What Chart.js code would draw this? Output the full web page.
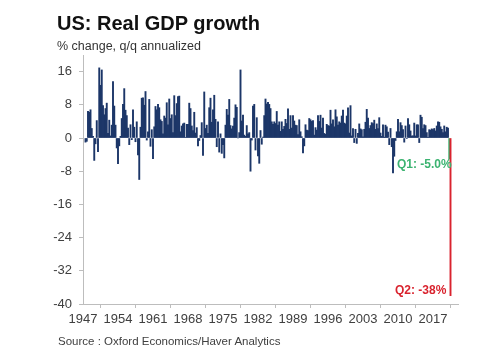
<!DOCTYPE html>
<html>
<head>
<meta charset="utf-8">
<script src="https://cdn.jsdelivr.net/npm/chart.js@4"></script>
<style>
  html, body { margin: 0; padding: 0; background: #fff; }
  #wrap { position: relative; width: 500px; height: 358px; font-family: "Liberation Sans", Arial, sans-serif; }
  #wrap canvas { position: absolute; left: 0; top: 0; }
  .txt { position: absolute; white-space: nowrap; line-height: 1; }
  #title { left: 57px; top: 13px; font-size: 20px; font-weight: bold; color: #111; }
  #sub { left: 57px; top: 40px; font-size: 12.5px; color: #333; }
  #src { left: 58px; top: 336px; font-size: 11.5px; color: #404040; }
  #q1 { left: 397px; top: 158px; font-size: 12px; font-weight: bold; color: #3cb371; }
  #q2 { left: 395px; top: 284px; font-size: 12px; font-weight: bold; color: #d9232e; }
</style>
</head>
<body>
<div id="wrap">
  <canvas id="gdp" width="500" height="358"></canvas>
  <div class="txt" id="title">US: Real GDP growth</div>
  <div class="txt" id="sub">% change, q/q annualized</div>
  <div class="txt" id="src">Source : Oxford Economics/Haver Analytics</div>
  <div class="txt" id="q1">Q1: -5.0%</div>
  <div class="txt" id="q2">Q2: -38%</div>
</div>
<script>
// quarterly growth, % q/q annualized, starting 1947 Q2
const firstYear = 1947;
const firstQuarter = 2;
const history = [
  -1.0, -0.8, 6.4,            // 1947
  6.2, 6.8, 2.3, 0.4,         // 1948
  -5.4, -1.4, 4.2, -3.3,      // 1949
  16.9, 12.7, 16.4, 7.8,      // 1950
  5.6, 7.1, 8.4, 1.1,         // 1951
  4.3, 0.5, 3.1, 13.6,        // 1952
  7.7, 3.1, -2.4, -6.2,       // 1953
  -1.9, 0.4, 4.7, 8.1,        // 1954
  11.9, 6.7, 5.4, 2.4,        // 1955
  -1.6, 3.2, -0.4, 6.8,       // 1956
  2.6, -0.9, 3.9, -4.1,       // 1957
  -10.0, 2.6, 9.6, 9.7,       // 1958
  7.9, 11.2, -0.5, 1.5,       // 1959
  9.3, -2.0, 2.0, -5.0,       // 1960
  2.7, 7.6, 6.8, 8.1,         // 1961
  7.3, 4.4, 4.0, 1.0,         // 1962
  5.3, 4.8, 8.5, 3.2,         // 1963
  9.4, 4.7, 5.6, 1.3,         // 1964
  10.2, 5.4, 8.3, 10.0,       // 1965
  10.1, 1.5, 2.9, 3.4,        // 1966
  3.6, 0.1, 3.3, 3.3,         // 1967
  8.4, 7.1, 2.9, 1.8,         // 1968
  6.2, 1.2, 2.5, -1.9,        // 1969
  -0.6, 0.6, 3.7, -4.2,       // 1970
  11.1, 2.3, 3.1, 1.1,        // 1971
  7.3, 9.6, 3.8, 6.8,         // 1972
  10.3, 4.5, -2.1, 3.9,       // 1973
  -3.4, 1.0, -3.7, -1.6,      // 1974
  -4.8, 3.1, 6.9, 5.5,        // 1975
  9.3, 3.0, 2.2, 2.9,         // 1976
  4.8, 8.0, 7.4, 0.0,         // 1977
  1.3, 16.4, 4.1, 5.5,        // 1978
  0.7, 0.4, 3.0, 1.0,         // 1979
  1.3, -8.0, -0.5, 7.7,       // 1980
  8.1, -2.9, 4.9, -4.3,       // 1981
  -6.1, 1.8, -1.5, 0.2,       // 1982
  5.4, 9.4, 8.2, 8.6,         // 1983
  8.1, 7.1, 3.9, 3.3,         // 1984
  3.9, 3.5, 6.4, 3.1,         // 1985
  3.9, 1.6, 3.9, 2.1,         // 1986
  2.8, 4.5, 3.5, 7.0,         // 1987
  2.1, 5.4, 2.4, 5.4,         // 1988
  4.1, 3.1, 3.0, 0.8,         // 1989
  4.4, 1.5, 0.3, -3.6,        // 1990
  -1.9, 3.2, 1.9, 1.8,        // 1991
  4.7, 4.4, 4.0, 4.2,         // 1992
  0.7, 2.5, 1.9, 5.4,         // 1993
  4.0, 5.5, 2.4, 4.8,         // 1994
  1.1, 0.9, 3.3, 3.0,         // 1995
  2.9, 6.7, 3.4, 4.4,         // 1996
  2.7, 6.8, 5.1, 3.1,         // 1997
  3.9, 3.6, 5.3, 6.7,         // 1998
  3.6, 3.4, 5.3, 7.3,         // 1999
  1.2, 7.8, 0.5, 2.3,         // 2000
  -1.1, 2.1, -1.3, 1.1,       // 2001
  3.4, 2.2, 2.0, 0.3,         // 2002
  2.1, 3.8, 6.9, 4.8,         // 2003
  2.3, 3.0, 3.7, 3.5,         // 2004
  4.3, 2.1, 3.4, 2.3,         // 2005
  4.9, 1.2, 0.4, 3.2,         // 2006
  0.2, 3.1, 2.7, 1.4,         // 2007
  -1.6, 2.3, -2.1, -8.4,      // 2008
  -4.4, -0.6, 1.5, 4.5,       // 2009
  1.5, 3.7, 3.0, 2.0,         // 2010
  -1.0, 2.9, -0.1, 4.7,       // 2011
  3.2, 1.7, 0.5, 0.5,         // 2012
  3.6, 0.5, 3.2, 3.2,         // 2013
  -1.1, 5.5, 5.0, 2.3,        // 2014
  3.2, 3.0, 1.3, 0.1,         // 2015
  2.0, 1.9, 2.2, 2.0,         // 2016
  2.3, 1.7, 2.9, 3.9,         // 2017
  3.8, 2.7, 2.1, 1.3,         // 2018
  2.9, 1.5, 2.6, 2.4          // 2019
];
const q1_2020 = -5.0;
const q2_2020 = -38.0;

const yTicks = [16, 8, 0, -8, -16, -24, -32, -40];
const xTickYears = [1947, 1954, 1961, 1968, 1975, 1982, 1989, 1996, 2003, 2010, 2017];

const navy = '#1c3668';
const values = history.concat([q1_2020, q2_2020]);
const points = values.map((v, i) => ({
  x: firstYear + (firstQuarter - 1 + i + 1) / 4,
  y: v
}));
const colors = values.map((v, i) => {
  if (i === values.length - 2) return '#3cb371';
  if (i === values.length - 1) return '#d9232e';
  return navy;
});

const axisGray = '#bdbdbd';
const tickFont = { family: '"Liberation Sans", Arial, sans-serif', size: 13 };

new Chart(document.getElementById('gdp'), {
  type: 'bar',
  data: {
    datasets: [{
      data: points,
      backgroundColor: colors,
      borderWidth: 0,
      barPercentage: 1,
      categoryPercentage: 1
    }]
  },
  options: {
    responsive: false,
    animation: false,
    layout: { padding: { left: 0, top: 55, right: 42, bottom: 30 } },
    plugins: { legend: { display: false }, tooltip: { enabled: false } },
    scales: {
      x: {
        type: 'linear',
        min: 1947,
        max: 2022,
        offset: false,
        grid: { drawOnChartArea: false, tickLength: 4, color: axisGray },
        border: { color: axisGray },
        afterBuildTicks: s => { s.ticks = xTickYears.map(v => ({ value: v })); },
        ticks: {
          maxRotation: 0,
          autoSkip: false,
          padding: 4,
          color: '#404040',
          font: tickFont,
          callback: v => String(Math.round(v))
        },
        afterFit: s => { s.height = 24; }
      },
      y: {
        min: -40,
        max: 20,
        grid: { drawOnChartArea: false, tickLength: 4, color: axisGray },
        border: { color: axisGray },
        afterBuildTicks: s => { s.ticks = yTicks.map(v => ({ value: v })); },
        ticks: {
          padding: 7,
          color: '#404040',
          font: tickFont,
          callback: v => String(v)
        },
        afterFit: s => { s.width = 83; }
      }
    }
  }
});
</script>
</body>
</html>
